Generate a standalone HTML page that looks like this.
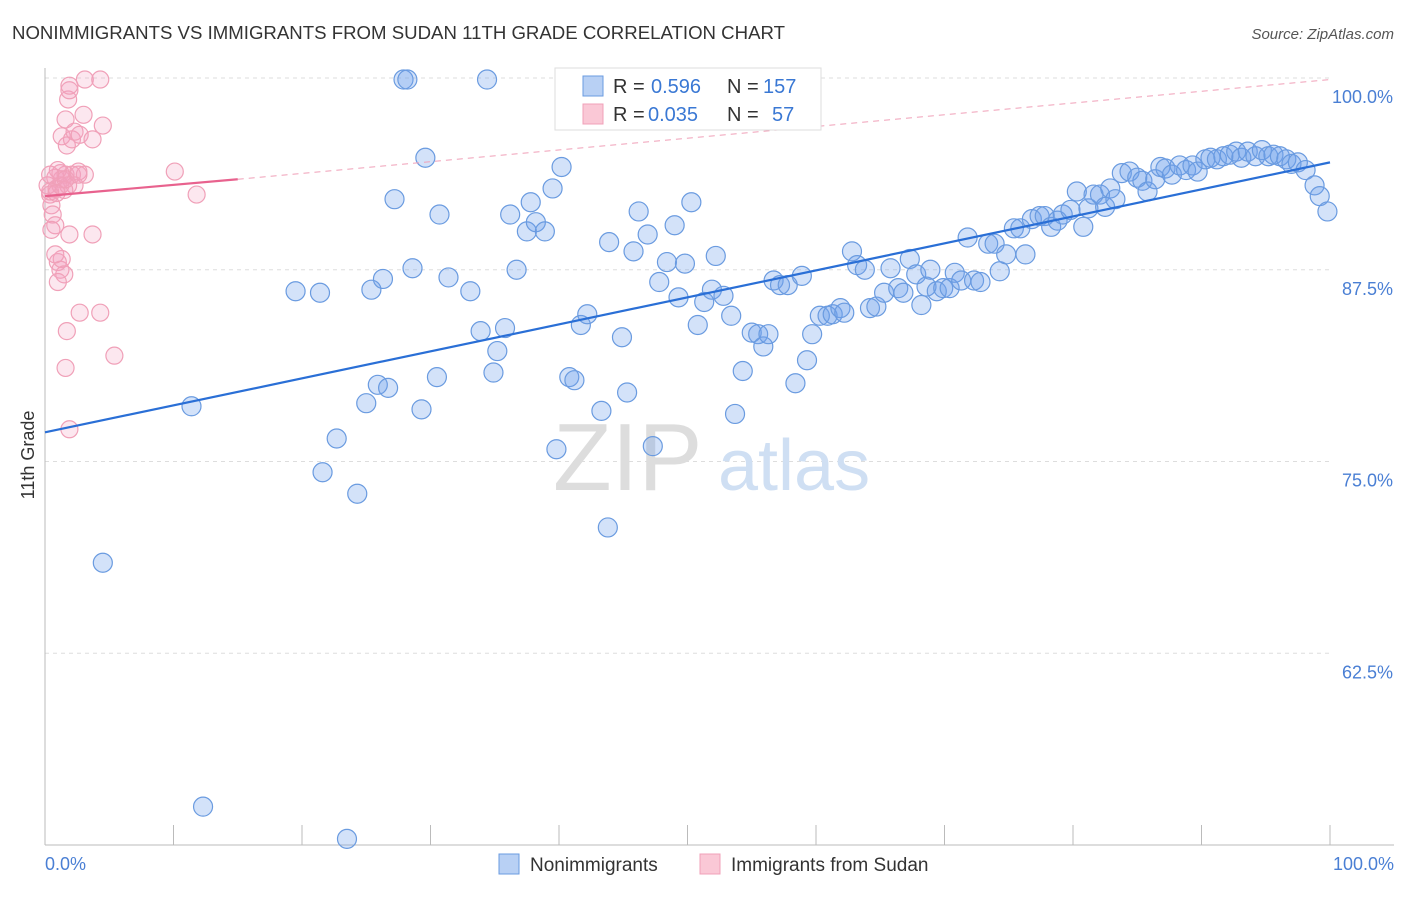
<!DOCTYPE html>
<html><head><meta charset="utf-8"><style>
body{margin:0;background:#fff;font-family:"Liberation Sans",sans-serif;}
svg text{font-family:"Liberation Sans",sans-serif;}
</style></head><body>
<svg width="1406" height="892" xmlns="http://www.w3.org/2000/svg">
<text x="12" y="39" font-size="18" fill="#333" textLength="773" lengthAdjust="spacingAndGlyphs">NONIMMIGRANTS VS IMMIGRANTS FROM SUDAN 11TH GRADE CORRELATION CHART</text>
<text x="1394" y="39" font-size="15" fill="#555" text-anchor="end" font-style="italic">Source: ZipAtlas.com</text>
<g id="grid"></g>
<text x="553" y="490" font-size="96" fill="#ddd" font-family="Liberation Serif">ZIP</text>
<text x="718" y="490" font-size="72" fill="#cfdff3">atlas</text>
<g id="pts"></g>
<g id="lines"></g>
<text x="34" y="455" font-size="18" fill="#333" text-anchor="middle" transform="rotate(-90 34 455)">11th Grade</text>
<text x="45" y="870" font-size="18" fill="#4a7fd4">0.0%</text>
<text x="1394" y="870" font-size="18" fill="#4a7fd4" text-anchor="end">100.0%</text>
<g>
<rect x="555" y="68" width="266" height="62" fill="#fff" stroke="#ddd"/>
<rect x="583" y="76" width="20" height="20" fill="#b8d0f4" stroke="#6a9be0"/>
<rect x="583" y="104" width="20" height="20" fill="#fac8d6" stroke="#f0a0b8"/>
<text x="613" y="93" font-size="20" fill="#333">R =</text>
<text x="651" y="93" font-size="20" fill="#3a78d4">0.596</text>
<text x="727" y="93" font-size="20" fill="#333">N =</text>
<text x="763" y="93" font-size="20" fill="#3a78d4">157</text>
<text x="613" y="121" font-size="20" fill="#333">R =</text>
<text x="648" y="121" font-size="20" fill="#3a78d4">0.035</text>
<text x="727" y="121" font-size="20" fill="#333">N =</text>
<text x="772" y="121" font-size="20" fill="#3a78d4">57</text>
</g>
<g>
<rect x="499" y="854" width="20" height="20" fill="#b8d0f4" stroke="#6a9be0"/>
<text x="530" y="871" font-size="19" fill="#333">Nonimmigrants</text>
<rect x="700" y="854" width="20" height="20" fill="#fac8d6" stroke="#f0a0b8"/>
<text x="731" y="871" font-size="19" fill="#333">Immigrants from Sudan</text>
</g>
</svg>
<script>
const yTicks=[100,87.5,75,62.5];
const yTickLabels=["100.0%","87.5%","75.0%","62.5%"];
const xTicks=[0,10,20,30,40,50,60,70,80,90,100];
const blueX=[4.5,12.3,23.5,11.4,19.5,21.4,21.6,22.7,24.3,25.0,25.4,25.9,26.3,26.7,27.2,27.9,28.2,28.6,29.3,29.6,30.5,30.7,31.4,33.1,33.9,34.4,34.9,35.2,35.8,36.2,36.7,37.5,37.8,38.2,38.9,39.5,39.8,40.2,40.8,41.2,41.7,42.2,43.3,43.8,43.9,44.9,45.3,45.8,46.2,46.9,47.3,47.8,48.4,49.0,49.3,49.8,50.3,50.8,51.3,51.9,52.2,52.8,53.4,53.7,54.3,55.0,55.5,55.9,56.3,56.7,57.2,57.8,58.4,58.9,59.3,59.7,60.3,60.9,61.3,61.9,62.2,62.8,63.2,63.8,64.2,64.7,65.3,65.8,66.4,66.8,67.3,67.8,68.2,68.6,68.9,69.4,69.9,70.4,70.8,71.3,71.8,72.3,72.8,73.4,73.9,74.3,74.8,75.4,75.9,76.3,76.8,77.4,77.8,78.3,78.8,79.2,79.8,80.3,80.8,81.2,81.6,82.1,82.5,82.9,83.3,83.8,84.4,85.0,85.4,85.8,86.4,86.8,87.2,87.7,88.3,88.8,89.3,89.7,90.3,90.7,91.2,91.7,92.2,92.7,93.1,93.6,94.2,94.7,95.2,95.6,96.1,96.6,97.0,97.5,98.1,98.8,99.2,99.8];
const blueY=[68.4,52.5,50.4,78.6,86.1,86.0,74.3,76.5,72.9,78.8,86.2,80.0,86.9,79.8,92.1,99.9,99.9,87.6,78.4,94.8,80.5,91.1,87.0,86.1,83.5,99.9,80.8,82.2,83.7,91.1,87.5,90.0,91.9,90.6,90.0,92.8,75.8,94.2,80.5,80.3,83.9,84.6,78.3,70.7,89.3,83.1,79.5,88.7,91.3,89.8,76.0,86.7,88.0,90.4,85.7,87.9,91.9,83.9,85.4,86.2,88.4,85.8,84.5,78.1,80.9,83.4,83.3,82.5,83.3,86.8,86.5,86.5,80.1,87.1,81.6,83.3,84.5,84.5,84.6,85.0,84.7,88.7,87.8,87.5,85.0,85.1,86.0,87.6,86.3,86.0,88.2,87.2,85.2,86.4,87.5,86.1,86.3,86.3,87.3,86.8,89.6,86.8,86.7,89.2,89.2,87.4,88.5,90.2,90.2,88.5,90.8,91.0,91.0,90.3,90.7,91.1,91.4,92.6,90.3,91.5,92.4,92.4,91.6,92.8,92.1,93.8,93.9,93.5,93.3,92.6,93.4,94.2,94.1,93.7,94.3,94.0,94.3,93.9,94.7,94.8,94.7,94.9,95.0,95.2,94.8,95.2,94.9,95.3,94.9,95.0,94.9,94.7,94.4,94.5,94.0,93.0,92.3,91.3];
const pinkX=[0.2,0.4,0.5,0.8,0.9,1.2,1.3,1.6,0.6,0.8,1.0,1.2,1.3,1.5,1.0,1.3,1.6,1.8,1.9,1.7,2.1,2.3,1.9,3.1,4.3,3.0,2.7,3.7,4.5,2.1,2.6,3.1,1.2,1.8,2.3,1.9,3.7,0.8,2.7,4.3,1.7,5.4,1.6,1.9,10.1,11.8,0.4,0.9,1.5,1.0,0.5,1.6,2.6,0.4];
const pinkY=[93.0,92.4,91.7,93.5,92.8,93.0,93.4,93.7,91.1,90.4,88.0,87.5,88.2,87.2,86.7,96.2,97.3,98.6,99.2,95.6,96.0,96.5,99.5,99.9,99.9,97.6,96.3,96.0,96.9,93.7,93.9,93.7,93.8,93.0,93.0,89.8,89.8,88.5,84.7,84.7,83.5,81.9,81.1,77.1,93.9,92.4,92.6,92.5,92.7,94.0,90.1,93.4,93.7,93.7];
const blueTrend=[76.9,94.5];
const pinkTrend=[92.3,93.4,99.9];
const NS="http://www.w3.org/2000/svg";
const X0=45,X1=1330,YTOP=78,YBOT=845;
const sx=v=>X0+(v/100)*(X1-X0);
const sy=v=>YTOP+(100-v)/50*(YBOT-YTOP);
function mk(t,a,p){const e=document.createElementNS(NS,t);for(const k in a)e.setAttribute(k,a[k]);p.appendChild(e);return e;}
const grid=document.getElementById('grid');
yTicks.forEach((t,i)=>{
  const l=mk('line',{x1:X0,x2:X1,y1:sy(t),y2:sy(t),stroke:'#ddd','stroke-dasharray':'4 4'},grid);
  
  
  const tx=mk('text',{x:1393,y:sy(t)+25,'font-size':18,fill:'#4a7fd4','text-anchor':'end'},grid);
  tx.textContent=yTickLabels[i];
  
  
});
const ax=mk('line',{x1:X0,x2:X0,y1:68,y2:YBOT,stroke:'#bbb'},grid);


const bx=mk('line',{x1:X0,x2:1394,y1:YBOT,y2:YBOT,stroke:'#bbb'},grid);


xTicks.forEach(t=>{
  const l=mk('line',{x1:sx(t),x2:sx(t),y1:YBOT,y2:YBOT-20,stroke:'#bbb'},grid);
  
  
});
const pts=document.getElementById('pts');
blueX.forEach((v,i)=>{
  const c=mk('circle',{cx:sx(v),cy:sy(blueY[i]),r:9.5,fill:'rgba(110,160,235,0.3)',stroke:'#6a9be0','stroke-width':1.2},pts);
  
  
});
pinkX.forEach((v,i)=>{
  const c=mk('circle',{cx:sx(v),cy:sy(pinkY[i]),r:8.5,fill:'rgba(245,160,190,0.25)',stroke:'#f0a0b8','stroke-width':1.2},pts);
  
  
});
const lines=document.getElementById('lines');
const bl=mk('line',{x1:sx(0),y1:sy(blueTrend[0]),x2:sx(100),y2:sy(blueTrend[1]),stroke:'#2a6fd6','stroke-width':2.2},lines);


const pd=mk('line',{x1:sx(15),y1:sy(pinkTrend[1]),x2:sx(100),y2:sy(pinkTrend[2]),stroke:'#f0a0b8','stroke-width':1,'stroke-dasharray':'6 5'},lines);


const pl=mk('line',{x1:sx(0),y1:sy(pinkTrend[0]),x2:sx(15),y2:sy(pinkTrend[1]),stroke:'#e8628e','stroke-width':2.2},lines);


</script>
</body></html>
